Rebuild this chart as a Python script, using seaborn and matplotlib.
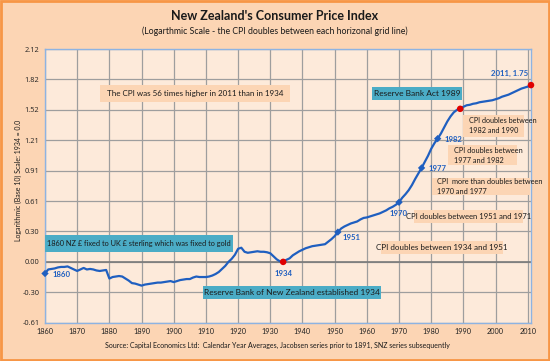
import numpy as np
import pandas as pd
import seaborn as sns
import matplotlib.pyplot as plt
from matplotlib.patches import Rectangle

sns.set_theme(style="white")
plt.rcParams['font.family'] = ['Lato', 'DejaVu Sans']

# datos (log10 del IPC, 1934 = 0)
years = list(range(1860, 2012))
cpi_log = [
    -0.115, -0.075, -0.070, -0.065, -0.055, -0.050, -0.050, -0.045, -0.060, -0.075,  # 1860s
    -0.090, -0.075, -0.060, -0.075, -0.070, -0.075, -0.085, -0.090, -0.085, -0.080,  # 1870s
    -0.165, -0.150, -0.145, -0.140, -0.145, -0.165, -0.185, -0.210, -0.215, -0.225,  # 1880s
    -0.235, -0.225, -0.220, -0.215, -0.210, -0.205, -0.205, -0.200, -0.195, -0.190,  # 1890s
    -0.200, -0.190, -0.180, -0.175, -0.170, -0.170, -0.155, -0.145, -0.150, -0.150,  # 1900s
    -0.150, -0.145, -0.135, -0.120, -0.100, -0.070, -0.040, 0.000, 0.030, 0.070,     # 1910s
    0.130, 0.140, 0.100, 0.090, 0.095, 0.100, 0.105, 0.100, 0.100, 0.095,            # 1920s
    0.085, 0.055, 0.025, 0.005, 0.000, 0.020, 0.035, 0.065, 0.085, 0.105,            # 1930s
    0.120, 0.135, 0.145, 0.155, 0.160, 0.165, 0.170, 0.175, 0.200, 0.225,            # 1940s
    0.255, 0.295, 0.330, 0.350, 0.365, 0.380, 0.390, 0.400, 0.420, 0.435,            # 1950s
    0.440, 0.450, 0.460, 0.470, 0.480, 0.495, 0.510, 0.530, 0.545, 0.565,            # 1960s
    0.590, 0.635, 0.670, 0.710, 0.760, 0.820, 0.875, 0.930, 0.990, 1.050,            # 1970s
    1.120, 1.175, 1.220, 1.270, 1.330, 1.390, 1.440, 1.480, 1.505, 1.515,            # 1980s
    1.535, 1.550, 1.555, 1.565, 1.570, 1.580, 1.585, 1.590, 1.595, 1.600,            # 1990s
    1.610, 1.620, 1.635, 1.645, 1.655, 1.670, 1.685, 1.700, 1.715, 1.725,            # 2000s
    1.735, 1.750,                                                                    # 2010s
]
df = pd.DataFrame({'year': years, 'cpi': cpi_log})

blue_years = [1860, 1951, 1970, 1977, 1982]
red_years = [1934, 1989, 2011]
y_ticks = [k * np.log10(2) for k in range(-2, 8)]
y_ticklabels = ['-0.61', '-0.30', '0.00', '0.30', '0.61', '0.91', '1.21', '1.52', '1.82', '2.12']
x_ticks = list(range(1860, 2011, 10))

# colores
bg_fig = '#FCD5B4'
bg_ax = '#FDEADA'
teal = '#4BACC6'
line_blue = '#1F5FC0'

fig = plt.figure(figsize=(5.5, 3.61), dpi=100, facecolor=bg_fig)
ax = fig.add_axes([45 / 550, 1 - 322.7 / 361, 486 / 550, 273.7 / 361])
ax.set_facecolor(bg_ax)

sns.lineplot(data=df, x='year', y='cpi', ax=ax, color=line_blue, lw=1.6, zorder=4)
sns.scatterplot(data=df[df.year.isin(blue_years)], x='year', y='cpi', ax=ax,
                color=line_blue, marker='D', s=14, edgecolor='none', zorder=5, clip_on=False)
sns.scatterplot(data=df[df.year.isin(red_years)], x='year', y='cpi', ax=ax,
                color='#E00000', marker='o', s=22, edgecolor='none', zorder=5, clip_on=False)

ax.set_xlim(1860, 2011)
ax.set_ylim(y_ticks[0], y_ticks[-1])
ax.set_xticks(x_ticks)
ax.set_xticklabels([str(x) for x in x_ticks], fontsize=5.3, color='#222222')
ax.set_yticks(y_ticks)
ax.set_yticklabels(y_ticklabels, fontsize=5.3, color='#222222', family=['Open Sans', 'DejaVu Sans'])
ax.tick_params(length=0, pad=4)
ax.grid(True, color='#9E9E9E', lw=0.9)
ax.axhline(0, color='#7A7A7A', lw=1.2, zorder=1)
for s in ax.spines.values():
    s.set_color('#8DB3E2')
    s.set_linewidth(1)
ax.set_xlabel('')
ax.set_ylabel('')

# etiquetas de los puntos
lab = dict(fontsize=5.6, color='#1F5FC0', fontweight='bold', textcoords='offset pixels')
val = dict(zip(years, cpi_log))
ax.annotate('1860', (1860, val[1860]), xytext=(8, -1), ha='left', va='center', **lab)
ax.annotate('1934', (1934, val[1934]), xytext=(0, -12), ha='center', va='center', **lab)
ax.annotate('1951', (1951, val[1951]), xytext=(5, -5), ha='left', va='center', **lab)
ax.annotate('1970', (1970, val[1970]), xytext=(0, -11), ha='center', va='center', **lab)
ax.annotate('1977', (1977, val[1977]), xytext=(7, -1), ha='left', va='center', **lab)
ax.annotate('1982', (1982, val[1982]), xytext=(7, -1), ha='left', va='center', **lab)
ax.annotate('2011, 1.75', (2011, val[2011]), xytext=(-3, 12), ha='right', va='center', **lab)

# cajas de texto (coordenadas de ejes)
def caja(x0, x1, y0, y1, texto, color, tx=None, fs=5.6):
    ax.add_patch(Rectangle((x0, y0), x1 - x0, y1 - y0, transform=ax.transAxes,
                           facecolor=color, edgecolor='none', zorder=3))
    if tx is None:
        ax.text((x0 + x1) / 2, (y0 + y1) / 2, texto, transform=ax.transAxes,
                ha='center', va='center', fontsize=fs, color='#1A1A1A', zorder=6,
                linespacing=1.5)
    else:
        ax.text(tx, (y0 + y1) / 2, texto, transform=ax.transAxes,
                ha='left', va='center', fontsize=fs, color='#1A1A1A', zorder=6,
                linespacing=1.5)

caja(0.113, 0.504, 0.807, 0.868, 'The CPI was 56 times higher in 2011 than in 1934', bg_fig, 0.128, 5.8)
caja(0.673, 0.858, 0.814, 0.862, 'Reserve Bank Act 1989', teal, fs=6)
caja(0.860, 0.985, 0.679, 0.759, 'CPI doubles between\n1982 and 1990', bg_fig, 0.872, 5.2)
caja(0.829, 0.971, 0.576, 0.649, 'CPI doubles between\n1977 and 1982', bg_fig, 0.842, 5.3)
caja(0.796, 0.998, 0.467, 0.529, 'CPI  more than doubles between\n1970 and 1977', bg_fig, 0.806, 5.3)
caja(0.759, 0.984, 0.364, 0.412, 'CPI doubles between 1951 and 1971', bg_fig, fs=5.5)
caja(0.691, 0.942, 0.251, 0.299, 'CPI doubles between 1934 and 1951', bg_fig, fs=5.8)
caja(0.000, 0.387, 0.259, 0.320, '1860 NZ £ fixed to UK £ sterling which was fixed to gold', teal, fs=5.35)
caja(0.325, 0.691, 0.087, 0.134, 'Reserve Bank of New Zealand established 1934', teal, fs=6)

# titulos y textos
fig.text(0.5, 1 - 16 / 361, "New Zealand's Consumer Price Index", ha='center', va='center',
         fontsize=9, fontweight='bold', color='#1A1A1A')
fig.text(0.5, 1 - 31 / 361, '(Logarthmic Scale - the CPI doubles between each horizonal grid line)',
         ha='center', va='center', fontsize=6.3, color='#1A1A1A')
fig.text(18 / 550, 1 - 180 / 361, 'Logarithmic (Base 10) Scale: 1934 = 0.0', rotation=90,
         ha='center', va='center', fontsize=5, color='#1A1A1A')
fig.text(277 / 550, 1 - 345 / 361,
         'Source: Capital Economics Ltd:  Calendar Year Averages, Jacobsen series prior to 1891, SNZ series subsequently',
         ha='center', va='center', fontsize=5, color='#1A1A1A')

# marco naranja
fig.patches.append(Rectangle((0.002, 0.003), 0.996, 0.994, transform=fig.transFigure,
                             fill=False, edgecolor='#F79646', lw=2))

plt.savefig('out.png', dpi=100, facecolor=bg_fig)
